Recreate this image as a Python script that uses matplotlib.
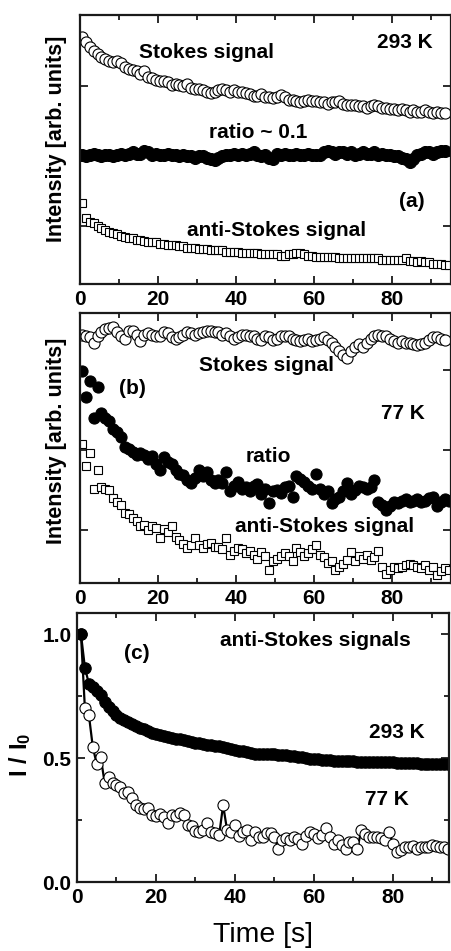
import numpy as np
import matplotlib
matplotlib.use("Agg")
import matplotlib.pyplot as plt
from matplotlib.ticker import MultipleLocator, FixedLocator

plt.rcParams['font.family'] = ['Liberation Sans', 'DejaVu Sans']
plt.rcParams['font.weight'] = 'bold'
plt.rcParams['mathtext.fontset'] = 'custom'
plt.rcParams['mathtext.rm'] = 'Liberation Sans:bold'
plt.rcParams['mathtext.bf'] = 'Liberation Sans:bold'
plt.rcParams['mathtext.it'] = 'Liberation Sans:bold'

# ---------------- data ----------------
# panel (a), 293 K, arbitrary units (0-100 of panel height), sampled every 1 s starting at 0.5 s
stokes_a = [92, 90, 88, 86.5, 85.5, 84.5, 83.5, 83, 82.5, 83, 82, 80.5, 80, 79.5, 79, 78, 79, 77,
            76.5, 76, 75.5, 75.5, 75, 74, 74.5, 74, 73.5, 74.5, 73, 72.5, 72.5, 72, 71.5, 71, 71.5,
            72, 72.5, 72, 71.5, 72, 71.5, 71.5, 71, 70.5, 70, 70, 70.5, 69.5, 69.5, 69, 69.5, 70.3,
            69.5, 68.5, 68.5, 68, 67.5, 68, 68.5, 68, 68, 67.5, 67.5, 67, 67.5, 67.5, 68, 67, 66.5,
            66.5, 66.5, 66, 66, 65.5, 66, 66.5, 66, 65.5, 65.5, 65, 65, 64.5, 65, 64.5, 64, 64.5,
            64, 64, 64.5, 64, 63.5, 64, 63.5, 63.5]
ratio_a = [48, 47.5, 48, 48.5, 48, 47.5, 48, 48, 47.5, 48, 48.5, 48, 48.5, 49, 48.5, 48.5, 49.5, 49,
           48, 48.5, 48, 48, 48.5, 48, 48, 47.5, 48, 47.5, 47.5, 47, 47.5, 47.5, 47, 46.5, 46,
           47, 47.5, 48, 48, 48.5, 48, 48.5, 48, 48.5, 49, 48, 47.5, 48, 47, 46.5, 48.5, 48,
           48.5, 48, 48, 48.5, 48, 48, 48.5, 48, 48, 48, 49, 49.5, 49, 48.5, 49, 49, 48.5, 49,
           48, 48.5, 49, 48.5, 48.5, 49, 48, 48.5, 48, 48, 47.5, 47.5, 47, 46.5, 45.5, 46.5,
           48, 48.5, 49, 49, 48.5, 49, 49.5, 49.5]
antistokes_a = [30, 24.5, 23, 22.5, 21.5, 21, 20, 19.5, 19, 18.5, 18, 17.5, 17, 17, 16.5, 16.5, 16,
                15.5, 15.5, 15.5, 15, 15, 14.5, 14.5, 14.5, 14, 14, 13.5, 13.5, 13.5, 13, 13, 13,
                12.5, 12.5, 12.5, 12.5, 12, 12, 12, 12, 11.5, 11.5, 11.5, 11.5, 11.5, 11, 11, 11,
                11, 11, 10.5, 10.5, 11, 11, 11.5, 11.5, 11, 10.5, 10.5, 10, 10, 10, 10, 10, 10,
                9.5, 9.5, 9.5, 9.5, 9.5, 9.5, 9.5, 9.5, 9.5, 9.5, 9.5, 9, 9, 9, 9, 9, 9, 9.5, 8.5,
                8.5, 8, 8.5, 8, 8, 7.5, 7.5, 7.5, 7, 7]

# panel (b), 77 K
stokes_b = [92, 91.5, 91, 89, 91.5, 93, 94, 94.5, 95, 93, 91.5, 90.5, 93.5, 93.5, 92, 89.5, 92,
            92.5, 92, 91.5, 91.5, 93, 92.5, 91, 90.5, 91, 92, 93, 92.5, 92, 92.5, 93, 93.5, 93.5,
            93, 93, 92, 92.5, 91.5, 90.5, 91, 92, 92, 91.5, 91.5, 90.5, 90, 91.5, 91, 90, 90.5,
            91.5, 91.5, 91.5, 90.5, 90, 89.5, 90, 90.5, 89.5, 90, 90.5, 91, 90, 89, 87.5, 86,
            84.5, 83.5, 86, 87.5, 88.5, 87.5, 89, 90.5, 91.5, 92, 91.5, 91.5, 90.5, 89.5, 89,
            89.5, 89, 89, 88.5, 88, 88.5, 89, 90, 91, 91, 90.5, 90]
ratio_b = [78.5, 69, 75, 61, 72.5, 63, 61, 60, 57, 56, 54, 50.5, 49.5, 48.5, 47.5, 48, 47.5, 46,
           47, 44, 42, 46.5, 45, 44, 42, 40.5, 40, 38, 37, 39, 42, 39.5, 41, 38, 37, 38, 37, 41,
           34, 36, 37.5, 35, 35.5, 34, 36, 36.5, 33, 35, 29.5, 34, 34.5, 33.5, 35.5, 36, 32,
           39.5, 38.5, 37.5, 36, 35, 40.5, 35, 33, 34, 29.5, 31, 32, 34, 37, 33, 34.5, 36, 35.5,
           35, 35.5, 38, 30, 29, 27, 28.5, 30, 29.5, 30.5, 31, 30, 30.5, 31, 30, 30.5, 31.5,
           32, 28.5, 30, 31, 30.5]
antistokes_b = [51.5, 43.5, 48, 35, 42, 35.5, 35, 34.5, 31.5, 30, 29, 26, 25.5, 24, 23, 21, 21.5,
                19.5, 21, 20.5, 16.5, 20, 19, 21, 17, 16, 14.5, 13, 14, 16.5, 14, 13, 14.5, 15,
                13.5, 13.5, 12.5, 16.5, 10.5, 12, 13, 12.5, 11, 12, 10.5, 9, 11.5, 10, 5, 8, 9,
                10, 11, 10, 8, 13, 11.5, 10, 11, 12.5, 14, 10.5, 9.5, 7.5, 8, 5, 6, 7, 8.5, 11.5,
                8, 10, 9, 10.5, 8.5, 9.5, 12, 6, 3.5, 5, 6, 5.5, 6, 6.5, 7, 6.5, 6, 5.5, 6.5, 5,
                6, 3, 4.5, 5.5, 5]

# panel (c), normalised anti-Stokes signals, sampled every 1 s starting at 1 s
norm_293 = [1.0, 0.865, 0.80, 0.785, 0.77, 0.755, 0.725, 0.705, 0.69, 0.675, 0.66, 0.652, 0.645,
            0.637, 0.63, 0.622, 0.616, 0.61, 0.603, 0.597, 0.594, 0.59, 0.586, 0.582, 0.578,
            0.575, 0.572, 0.568, 0.565, 0.562, 0.559, 0.556, 0.553, 0.551, 0.549, 0.547, 0.545,
            0.541, 0.537, 0.533, 0.53, 0.527, 0.524, 0.521, 0.518, 0.516, 0.516, 0.515, 0.517,
            0.515, 0.513, 0.512, 0.511, 0.51, 0.508, 0.505, 0.503, 0.5, 0.498, 0.497, 0.495,
            0.494, 0.493, 0.492, 0.49, 0.489, 0.488, 0.488, 0.487, 0.487, 0.486, 0.486, 0.485,
            0.486, 0.485, 0.484, 0.484, 0.483, 0.482, 0.482, 0.481, 0.48, 0.48, 0.479, 0.479,
            0.478, 0.477, 0.477, 0.476, 0.476, 0.475, 0.475, 0.474, 0.474]
norm_77 = [1.0, 0.70, 0.675, 0.545, 0.475, 0.505, 0.40, 0.425, 0.40, 0.39, 0.385, 0.36, 0.365,
           0.34, 0.31, 0.30, 0.295, 0.30, 0.27, 0.265, 0.275, 0.262, 0.237, 0.27, 0.268, 0.277,
           0.272, 0.23, 0.225, 0.205, 0.2, 0.21, 0.237, 0.2, 0.196, 0.19, 0.31, 0.21, 0.2, 0.23,
           0.185, 0.2, 0.21, 0.17, 0.2, 0.18, 0.182, 0.197, 0.196, 0.18, 0.135, 0.17, 0.176,
           0.17, 0.18, 0.175, 0.155, 0.185, 0.202, 0.195, 0.176, 0.19, 0.216, 0.18, 0.155, 0.17,
           0.15, 0.135, 0.16, 0.162, 0.135, 0.21, 0.195, 0.18, 0.182, 0.18, 0.178, 0.17, 0.202,
           0.155, 0.12, 0.13, 0.142, 0.14, 0.145, 0.135, 0.14, 0.142, 0.14, 0.148, 0.145, 0.14,
           0.142, 0.135]

xticks = [0, 20, 40, 60, 80]
yticks_c = [0.0, 0.5, 1.0]
yticklabels_c = ['0.0', '0.5', '1.0']

# ---------------- figure ----------------
W, H = 451, 951
fig = plt.figure(figsize=(W / 100, H / 100), dpi=100)

def ax_rect(l, r, t, b):
    return [l / W, (H - b) / H, (r - l) / W, (b - t) / H]

axA = fig.add_axes(ax_rect(80, 450.5, 15, 284))
axB = fig.add_axes(ax_rect(80, 450.5, 313, 583))
axC = fig.add_axes(ax_rect(77, 449, 613, 882))

TF = 15  # tick/annotation font size
SPC = '#1a1a1a'

def style(ax):
    for s in ax.spines.values():
        s.set_linewidth(1.6)
        s.set_color(SPC)
    ax.tick_params(which='both', direction='in', top=True, right=True, colors=SPC,
                   labelcolor='black', width=1.3)
    ax.tick_params(which='major', length=5.5, labelsize=TF, pad=4)
    ax.tick_params(which='minor', length=3.5)
    ax.xaxis.set_major_locator(FixedLocator(xticks))
    ax.xaxis.set_minor_locator(MultipleLocator(10))
    ax.set_xticklabels([str(v) for v in xticks], fontweight='bold')

ms_c = 8.0
ms_s = 6.4
mew = 0.8

# (a)
tA_s = np.arange(len(stokes_a)) + 0.5
tA_r = np.arange(len(ratio_a)) + 0.5
tA_a = np.arange(len(antistokes_a)) + 0.5
axA.plot(tA_s, stokes_a, 'o', ms=ms_c, mfc='white', mec='black', mew=mew, ls='none')
axA.plot(tA_r, ratio_a, 'o', ms=ms_c + 0.6, mfc='black', mec='black', mew=mew, ls='none')
axA.plot(tA_a, antistokes_a, 's', ms=ms_s, mfc='white', mec='black', mew=mew, ls='none')
axA.set_xlim(0, 95)
axA.set_ylim(0, 100)
style(axA)
axA.yaxis.set_major_locator(FixedLocator([21.6, 47.6, 73.6]))
axA.yaxis.set_minor_locator(FixedLocator([]))
axA.set_yticklabels([])
axA.set_ylabel('Intensity [arb. units]', fontsize=15.5, fontweight='bold')
axA.yaxis.set_label_coords(-0.034, 0.54)
axA.text(0.342, 0.862, 'Stokes signal', transform=axA.transAxes, ha='center', va='center', fontsize=TF, fontweight='bold')
axA.text(0.876, 0.896, '293 K', transform=axA.transAxes, ha='center', va='center', fontsize=TF, fontweight='bold')
axA.text(0.48, 0.565, 'ratio ~ 0.1', transform=axA.transAxes, ha='center', va='center', fontsize=TF, fontweight='bold')
axA.text(0.895, 0.305, '(a)', transform=axA.transAxes, ha='center', va='center', fontsize=TF, fontweight='bold')
axA.text(0.531, 0.2, 'anti-Stokes signal', transform=axA.transAxes, ha='center', va='center', fontsize=TF, fontweight='bold')

# (b)
tB_s = np.arange(len(stokes_b)) + 0.5
tB_r = np.arange(len(ratio_b)) + 0.5
tB_a = np.arange(len(antistokes_b)) + 0.5
axB.plot(tB_s, stokes_b, 'o', ms=ms_c, mfc='white', mec='black', mew=mew, ls='none')
axB.plot(tB_r, ratio_b, 'o', ms=ms_c, mfc='black', mec='black', mew=mew, ls='none')
axB.plot(tB_a, antistokes_b, 's', ms=ms_s, mfc='white', mec='black', mew=mew, ls='none')
axB.set_xlim(0, 95)
axB.set_ylim(0, 100)
style(axB)
axB.yaxis.set_major_locator(FixedLocator([19.6, 49.3, 78.9]))
axB.yaxis.set_minor_locator(FixedLocator([]))
axB.set_yticklabels([])
axB.set_ylabel('Intensity [arb. units]', fontsize=15.5, fontweight='bold')
axB.yaxis.set_label_coords(-0.034, 0.526)
axB.text(0.503, 0.807, 'Stokes signal', transform=axB.transAxes, ha='center', va='center', fontsize=TF, fontweight='bold')
axB.text(0.142, 0.721, '(b)', transform=axB.transAxes, ha='center', va='center', fontsize=TF, fontweight='bold')
axB.text(0.871, 0.628, '77 K', transform=axB.transAxes, ha='center', va='center', fontsize=TF, fontweight='bold')
axB.text(0.508, 0.468, 'ratio', transform=axB.transAxes, ha='center', va='center', fontsize=TF, fontweight='bold')
axB.text(0.66, 0.209, 'anti-Stokes signal', transform=axB.transAxes, ha='center', va='center', fontsize=TF, fontweight='bold')

# (c)
tC_1 = np.arange(len(norm_293)) + 1
tC_2 = np.arange(len(norm_77)) + 1
axC.plot(tC_2, norm_77, '-o', color='black', lw=1.6, ms=ms_c, mfc='white', mec='black', mew=mew)
axC.plot(tC_1, norm_293, '-o', color='black', lw=1.6, ms=8.2, mfc='black', mec='black', mew=mew)
axC.set_xlim(0, 94.2)
axC.set_ylim(0, 1.085)
style(axC)
axC.yaxis.set_major_locator(FixedLocator(yticks_c))
axC.yaxis.set_minor_locator(MultipleLocator(0.25))
axC.set_yticklabels(yticklabels_c, fontweight='bold')
axC.set_ylabel(r'$\mathbf{I\ /\ I_0}$', fontsize=17)
axC.yaxis.set_label_coords(-0.118, 0.472)
axC.text(0.64, 0.898, 'anti-Stokes signals', transform=axC.transAxes, ha='center', va='center', fontsize=TF, fontweight='bold')
axC.text(0.16, 0.85, '(c)', transform=axC.transAxes, ha='center', va='center', fontsize=TF, fontweight='bold')
axC.text(0.859, 0.557, '293 K', transform=axC.transAxes, ha='center', va='center', fontsize=TF, fontweight='bold')
axC.text(0.833, 0.305, '77 K', transform=axC.transAxes, ha='center', va='center', fontsize=TF, fontweight='bold')
axC.set_xlabel('Time [s]', fontsize=20.5, fontweight='normal', labelpad=11)

fig.savefig('out.png', dpi=100)
